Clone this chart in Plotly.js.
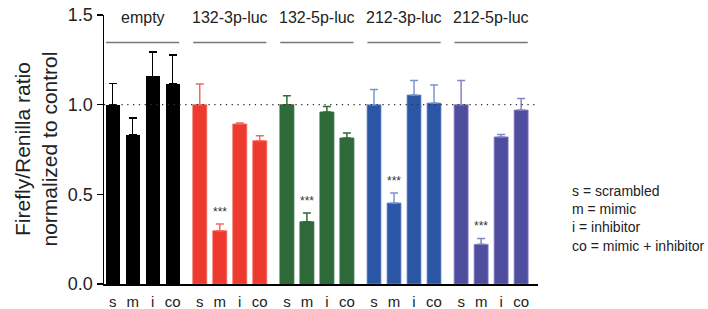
<!DOCTYPE html>
<html>
<head>
<meta charset="utf-8">
<script src="https://cdn.plot.ly/plotly-3.0.1.min.js"></script>
<style>
html,body{margin:0;padding:0;background:#fff;}
#chart{width:708px;height:309px;}
</style>
</head>
<body>
<div id="chart"></div>
<script>
// ---- data ----
const groups = ['empty', '132-3p-luc', '132-5p-luc', '212-3p-luc', '212-5p-luc'];
const conditions = ['s', 'm', 'i', 'co'];

const emptyVals   = [1.00, 0.833, 1.158, 1.115];
const emptyErr    = [0.117, 0.093, 0.136, 0.162];
const r132_3pVals = [1.00, 0.297, 0.892, 0.799];
const r132_3pErr  = [0.115, 0.038, 0.006, 0.028];
const r132_5pVals = [1.00, 0.347, 0.959, 0.814];
const r132_5pErr  = [0.050, 0.049, 0.031, 0.028];
const r212_3pVals = [1.00, 0.452, 1.054, 1.009];
const r212_3pErr  = [0.085, 0.055, 0.081, 0.100];
const r212_5pVals = [1.00, 0.221, 0.820, 0.970];
const r212_5pErr  = [0.135, 0.033, 0.013, 0.065];

const groupValues = [emptyVals, r132_3pVals, r132_5pVals, r212_3pVals, r212_5pVals];
const groupErrors = [emptyErr, r132_3pErr, r132_5pErr, r212_3pErr, r212_5pErr];
// significance marks: [group index, condition index, text]
const significance = [[1, 1, '***'], [2, 1, '***'], [3, 1, '***'], [4, 1, '***']];

const legendLines = ['s = scrambled', 'm = mimic', 'i = inhibitor', 'co = mimic + inhibitor'];

// ---- styles ----
const barColors = ['#000000', '#ee3a2e', '#2e6a3a', '#2b55a5', '#4f4d9e'];
const errColors = ['#000000', '#f06a60', '#2e6a3a', '#7b95cf', '#8583c8'];
const GROUP_STEP = 4.356;
const FONT = 'Liberation Sans, Arial, Helvetica, sans-serif';

const xPos = (g, i) => g * GROUP_STEP + i;

const traces = groups.map((name, g) => ({
  type: 'bar',
  name: name,
  x: conditions.map((c, i) => xPos(g, i)),
  y: groupValues[g],
  width: 0.7,
  marker: {color: barColors[g], line: {color: errColors[g], width: g === 0 ? 0 : 0.8}},
  error_y: {
    type: 'data', symmetric: false,
    array: groupErrors[g],
    arrayminus: groupErrors[g].map(() => 0),
    color: errColors[g], thickness: 1.5, width: 4
  },
  hoverinfo: 'skip',
  showlegend: false
}));

const tickvals = [], ticktext = [];
groups.forEach((gname, g) => conditions.forEach((c, i) => { tickvals.push(xPos(g, i)); ticktext.push(c); }));

const xmin = -0.433, xmax = 21.267;

const shapes = [
  {type: 'line', xref: 'x', yref: 'y', x0: xmin, x1: 21.2, y0: 1, y1: 1,
   line: {color: '#333', width: 1.3, dash: '1.3px,4.5px'}, layer: 'above'}
];
const annotations = [];
groups.forEach((gname, g) => {
  const c = xPos(g, 1.5);
  shapes.push({type: 'line', xref: 'x', yref: 'y', x0: xPos(g, 0) - 0.33, x1: xPos(g, 3) + 0.33,
               y0: 1.347, y1: 1.347, line: {color: '#777', width: 1.5}});
  annotations.push({xref: 'x', yref: 'y', x: c, y: 1.487, text: gname, showarrow: false,
                    xanchor: 'center', yanchor: 'middle', font: {family: FONT, size: 16, color: '#222'}});
});
significance.forEach(([g, i, t]) => {
  annotations.push({xref: 'x', yref: 'y', x: xPos(g, i), y: groupValues[g][i] + groupErrors[g][i],
                    yshift: 12, text: t, showarrow: false, xanchor: 'center', yanchor: 'middle',
                    font: {family: FONT, size: 12, color: '#333'}});
});
// y axis title
annotations.push({xref: 'paper', yref: 'paper', x: 0, y: 0.5, xshift: -69, textangle: -90,
                  text: 'Firefly/Renilla ratio<br>normalized to control', showarrow: false,
                  xanchor: 'center', yanchor: 'middle', font: {family: FONT, size: 21, color: '#222'}});
// key text
annotations.push({xref: 'paper', yref: 'paper', x: 1, y: 0, xshift: 32, yshift: 28,
                  text: legendLines.join('<br>'), showarrow: false, align: 'left',
                  xanchor: 'left', yanchor: 'bottom', font: {family: FONT, size: 14, color: '#222'}});

const layout = {
  width: 708, height: 309,
  margin: {l: 104, r: 170, t: 15, b: 25, pad: 0},
  paper_bgcolor: '#fff', plot_bgcolor: '#fff',
  bargap: 0,
  xaxis: {
    range: [xmin, xmax], tickmode: 'array', tickvals: tickvals, ticktext: ticktext,
    showgrid: false, zeroline: false, showline: true, linecolor: '#000', linewidth: 1.5,
    ticks: '', ticklabelstandoff: 3, tickfont: {family: FONT, size: 15, color: '#222'}
  },
  yaxis: {
    range: [0, 1.5], tickvals: [0, 0.5, 1.0, 1.5], ticktext: ['0.0', '0.5', '1.0', '1.5'],
    showgrid: false, zeroline: false, showline: true, linecolor: '#000', linewidth: 1.5,
    ticks: 'outside', ticklen: 6, tickwidth: 1.2, tickcolor: '#000',
    tickfont: {family: FONT, size: 18, color: '#222'}
  },
  shapes: shapes,
  annotations: annotations,
  font: {family: FONT}
};

Plotly.newPlot('chart', traces, layout, {staticPlot: true, displayModeBar: false});
</script>
</body>
</html>
